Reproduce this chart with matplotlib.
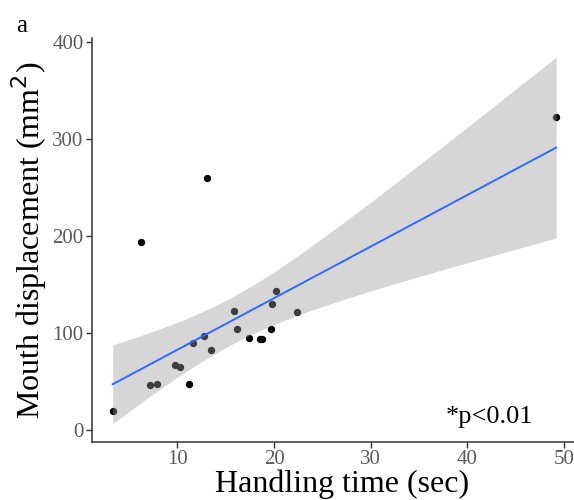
import numpy as np
import matplotlib
matplotlib.use("Agg")
import matplotlib.pyplot as plt

# values
handling_time = [3.3, 7.15, 7.9, 11.2, 9.75, 10.25, 11.65, 12.7, 13.5, 15.9, 16.2,
                 17.4, 18.5, 18.8, 19.7, 19.8, 20.2, 22.35, 6.2, 13.1, 49.2]
mouth_disp = [20, 46, 47, 47, 67, 65, 90, 97, 82, 123, 104,
              95, 94, 94, 104, 130, 143, 122, 194, 260, 323]
x_ticks = [10, 20, 30, 40, 50]
y_ticks = [0, 100, 200, 300, 400]

x = np.array(handling_time)
y = np.array(mouth_disp)

# linear fit with 95% confidence band (like geom_smooth(method = "lm"))
n = len(x)
slope, intercept = np.polyfit(x, y, 1)
resid = y - (slope * x + intercept)
s = np.sqrt(np.sum(resid ** 2) / (n - 2))
t_crit = 2.093  # t(0.975, df=19)
xs = np.linspace(x.min(), x.max(), 80)
ys = slope * xs + intercept
se = s * np.sqrt(1 / n + (xs - x.mean()) ** 2 / np.sum((x - x.mean()) ** 2))
lo, hi = ys - t_crit * se, ys + t_crit * se

plt.rcParams['font.family'] = ['Liberation Serif', 'DejaVu Serif']

fig = plt.figure(figsize=(5.74, 5.0), dpi=100)
ax = fig.add_axes([0.160, 0.116, 0.851, 0.808])

ax.scatter(x, y, s=28, color='black', zorder=2, linewidths=0)
ax.fill_between(xs, lo, hi, color='#999999', alpha=0.4, linewidth=0, zorder=3)
ax.plot(xs, ys, color='#3366FF', linewidth=1.4, zorder=4)

ax.set_xlim(1.14, 51.7)
ax.set_ylim(-12.4, 404)
ax.set_xticks(x_ticks)
ax.set_yticks(y_ticks)
ax.tick_params(colors='#333333', labelcolor='#5a5a5a', labelsize=15, length=4, width=1, pad=2)
for side in ['top', 'right']:
    ax.spines[side].set_visible(False)
for side in ['left', 'bottom']:
    ax.spines[side].set_color('#333333')
    ax.spines[side].set_linewidth(1.1)

ax.set_xlabel('Handling time (sec)', fontsize=23, labelpad=0)
ax.xaxis.label.set_x(0.512)
ax.set_ylabel('Mouth displacement (mm$^2$)', fontsize=23, labelpad=2)

ax.text(0.814, 0.047, '*p<0.01', transform=ax.transAxes, fontsize=19, ha='center', va='baseline')
fig.text(0.038, 0.948, 'a', fontsize=18, ha='center', va='center')

fig.savefig('out.png', dpi=100)
